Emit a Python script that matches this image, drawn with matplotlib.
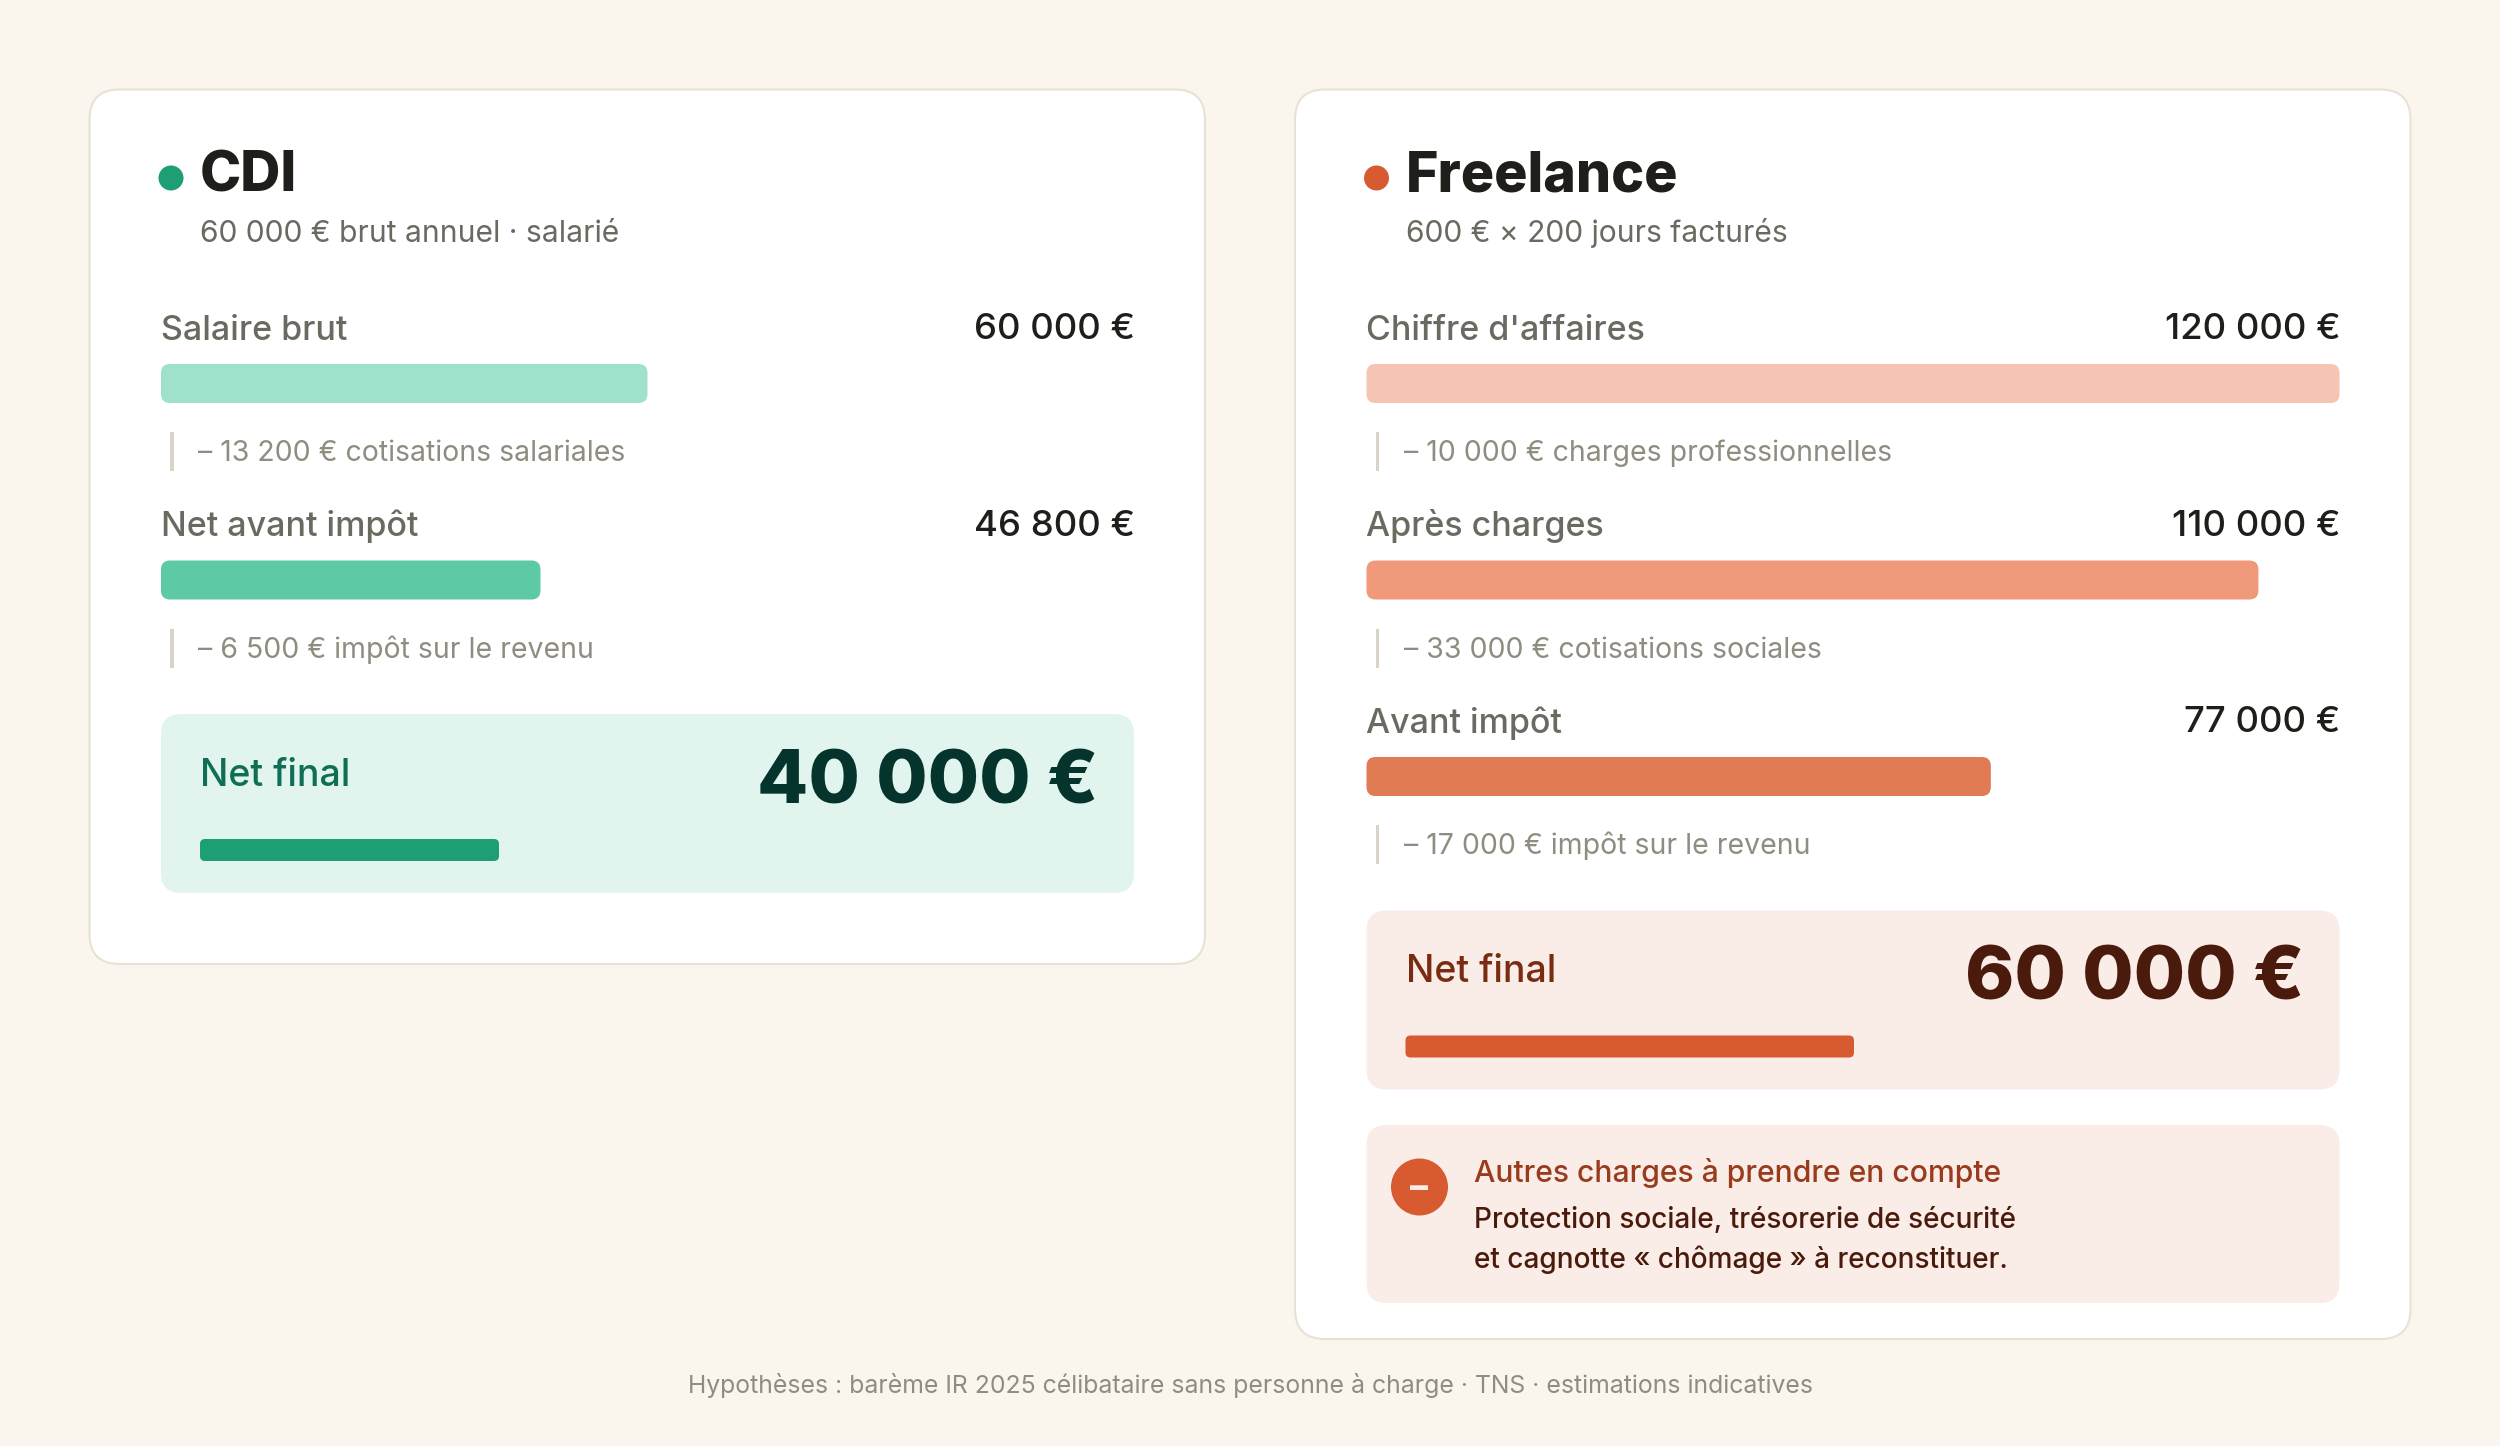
import matplotlib
matplotlib.use("Agg")
import matplotlib.pyplot as plt
from matplotlib.patches import FancyBboxPatch, Circle, Rectangle

plt.rcParams['font.family'] = ['Inter', 'DejaVu Sans']

# ---- data ----
cdi_title = "CDI"
cdi_subtitle = "60 000 € brut annuel · salarié"
cdi_labels = ["Salaire brut", "Net avant impôt"]
cdi_values = [60000, 46800]
cdi_value_labels = ["60 000 €", "46 800 €"]
cdi_deductions = ["– 13 200 € cotisations salariales", "– 6 500 € impôt sur le revenu"]
cdi_net = 40000
cdi_net_label = "40 000 €"

fr_title = "Freelance"
fr_subtitle = "600 € × 200 jours facturés"
fr_labels = ["Chiffre d'affaires", "Après charges", "Avant impôt"]
fr_values = [120000, 110000, 77000]
fr_value_labels = ["120 000 €", "110 000 €", "77 000 €"]
fr_deductions = ["– 10 000 € charges professionnelles", "– 33 000 € cotisations sociales",
                 "– 17 000 € impôt sur le revenu"]
fr_net = 60000
fr_net_label = "60 000 €"

net_text = "Net final"
note_title = "Autres charges à prendre en compte"
note_lines = ["Protection sociale, trésorerie de sécurité", "et cagnotte « chômage » à reconstituer."]
footer = "Hypothèses : barème IR 2025 célibataire sans personne à charge · TNS · estimations indicatives"
max_value = 120000

# ---- styles ----
BG = "#FAF6EE"; BORDER = "#E8E2D3"; INK = "#1F1E1A"; SEC = "#6B6A60"; TER = "#8F8C80"; RULE = "#D9D4C6"
GREEN = dict(dot="#1D9E75", bars=["#9FE1CB", "#5DCAA5"], panel="#E1F5EE", net="#0F6E56", big="#04342C", fill="#1D9E75")
ORANGE = dict(dot="#D85A30", bars=["#F5C4B3", "#F0997B", "#E07B54"], panel="#FAECE7", net="#7A2C12", big="#4A1B0C", fill="#D85A30")

W, H = 2500, 1446
fig = plt.figure(figsize=(W/100, H/100), dpi=100, facecolor=BG)
ax = fig.add_axes([0, 0, 1, 1])
ax.set_xlim(0, W); ax.set_ylim(H, 0); ax.axis("off")

def px(size):
    return size * 72 / 100

def rbox(x0, y0, x1, y1, r, fc, ec="none", lw=0, z=1):
    ax.add_patch(FancyBboxPatch((x0, y0), x1-x0, y1-y0, boxstyle=f"round,pad=0,rounding_size={r}",
                                fc=fc, ec=ec, lw=lw, zorder=z))

def txt(x, y, s, size, color, weight="normal", ha="left"):
    ax.text(x, y, s, fontsize=px(size), color=color, fontweight=weight, ha=ha, va="baseline", zorder=5)

ROW = 196.5
BAR_W = 973.0
NET_W = 897.0

def card(x0, y1, title, sub, labels, values, vlabels, deds, net, netlabel, pal):
    rbox(x0, 89.5, x0+1115.5, y1, 30, "white", BORDER, 1.5)
    left = x0 + 71.5
    right = left + BAR_W
    ax.add_patch(Circle((left+10, 178), 12.5, fc=pal["dot"], ec="none", zorder=3))
    txt(left+39, 191.5, title, 55.5, INK, 800)
    txt(left+39, 241.5, sub, 30, SEC)
    for i, (l, v, vl, d) in enumerate(zip(labels, values, vlabels, deds)):
        dy = i * ROW
        txt(left, 339.5+dy, l, 34, SEC, "medium")
        txt(right+1, 339+dy, vl, 36.5, INK, "medium", ha="right")
        rbox(left, 364+dy, left + v/max_value*BAR_W, 403+dy, 9, pal["bars"][i], z=3)
        ax.add_patch(Rectangle((left+9, 432+dy), 3.5, 39, fc=RULE, ec="none", zorder=3))
        txt(left+37, 461+dy, d, 28.4, TER)
    dy = (len(labels)-2) * ROW
    rbox(left, 714+dy, right, 893+dy, 20, pal["panel"], z=2)
    txt(left+39, 786+dy, net_text, 37.5, pal["net"], "medium")
    txt(right-35.5, 803.5+dy, netlabel, 74.5, pal["big"], 800, ha="right")
    rbox(left+39, 839+dy, left+39 + net/max_value*NET_W, 861+dy, 5, pal["fill"], z=3)

card(89.5, 964, cdi_title, cdi_subtitle, cdi_labels, cdi_values, cdi_value_labels, cdi_deductions, cdi_net, cdi_net_label, GREEN)
card(1295, 1339, fr_title, fr_subtitle, fr_labels, fr_values, fr_value_labels, fr_deductions, fr_net, fr_net_label, ORANGE)

# note
rbox(1366.5, 1125, 2339.5, 1303, 20, ORANGE["panel"], z=2)
ax.add_patch(Circle((1419.5, 1187), 28.5, fc=ORANGE["dot"], ec="none", zorder=3))
ax.text(1419, 1198, "–", fontsize=px(36), color="#FAECE7", fontweight=800, ha="center", va="baseline", zorder=5)
txt(1473.5, 1182, note_title, 30.2, "#993C1D", "medium")
txt(1473.5, 1228, note_lines[0], 28, ORANGE["big"], "medium")
txt(1473.5, 1268, note_lines[1], 28, ORANGE["big"], "medium")

ax.text(1250, 1393, footer, fontsize=px(24.8), color=TER, ha="center", va="baseline", zorder=5)

fig.savefig("out.png", dpi=100, facecolor=BG)
